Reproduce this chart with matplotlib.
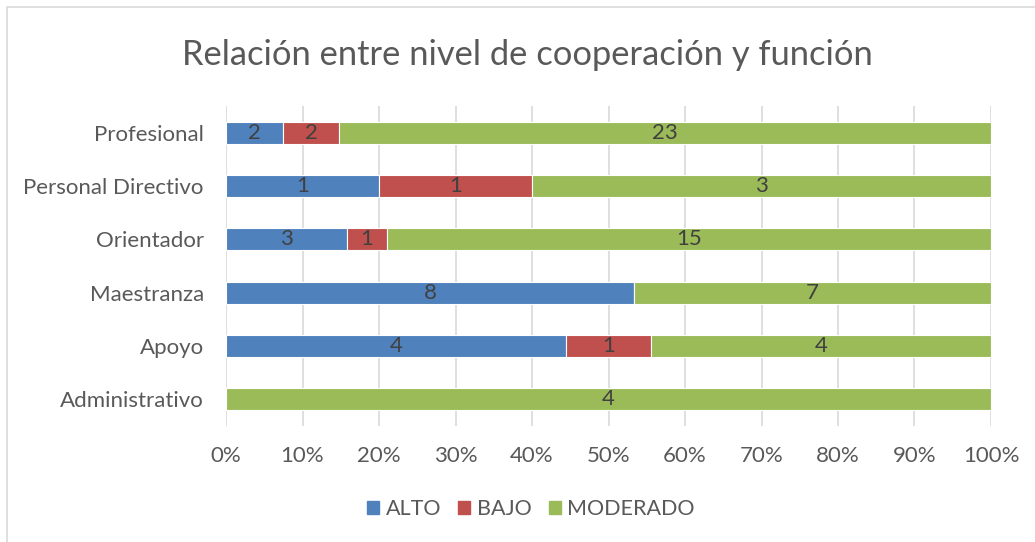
import matplotlib.pyplot as plt
import matplotlib.patches as mpatches
import numpy as np

categorias = ["Administrativo", "Apoyo", "Maestranza", "Orientador", "Personal Directivo", "Profesional"]
alto = [0, 4, 8, 3, 1, 2]
bajo = [0, 1, 0, 1, 1, 2]
moderado = [4, 4, 7, 15, 3, 23]

series = [("ALTO", alto, "#4F81BD"), ("BAJO", bajo, "#C0504D"), ("MODERADO", moderado, "#9BBB59")]

plt.rcParams['font.family'] = ['Lato', 'DejaVu Sans']

fig = plt.figure(figsize=(10.35, 5.42), dpi=100)
# borde del area del grafico
fig.patches.append(mpatches.Rectangle((7 / 1035, -0.01), 1.02, 1 - 7 / 542 + 0.01, transform=fig.transFigure,
                                      fill=False, edgecolor="#D9D9D9", linewidth=1.2))
ax = fig.add_axes([226 / 1035, 1 - 425.6 / 542, (991 - 226) / 1035, (425.6 - 106.4) / 542])

totales = np.array(alto) + np.array(bajo) + np.array(moderado)
y = np.arange(len(categorias))
izq = np.zeros(len(categorias))
handles = []
for nombre, vals, color in series:
    frac = np.array(vals) / totales
    bars = ax.barh(y, frac, left=izq, height=0.41, color=color, edgecolor="white", linewidth=0.8, zorder=3)
    for b, v in zip(bars, vals):
        if v > 0:
            ax.text(b.get_x() + b.get_width() / 2, b.get_y() + b.get_height() / 2, str(v),
                    ha="center", va="center", fontsize=16, color="#404040", zorder=4)
    izq += frac
    handles.append(mpatches.Patch(color=color, label=nombre))

ax.set_xlim(0, 1)
ax.set_ylim(-0.5, len(categorias) - 0.5)
ax.set_xticks(np.linspace(0, 1, 11))
ax.set_xticklabels([f"{int(t)}%" for t in np.linspace(0, 100, 11)])
ax.set_yticks(y)
ax.set_yticklabels(categorias)
ax.tick_params(axis="both", length=0, labelsize=16, labelcolor="#595959")
ax.tick_params(axis="x", pad=15)
ax.tick_params(axis="y", pad=16)
ax.grid(axis="x", color="#D9D9D9", linewidth=1.2, zorder=0)
for s in ax.spines.values():
    s.set_visible(False)

fig.text(527 / 1035, 1 - 55 / 542, "Relación entre nivel de cooperación y función", ha="center", va="center",
         fontsize=24.8, color="#595959")

fig.legend(handles=handles, loc="center", bbox_to_anchor=(531 / 1035, 1 - 509 / 542), ncol=3, frameon=False,
           fontsize=15.5, labelcolor="#595959", handlelength=0.55, handleheight=0.55, handletextpad=0.3,
           columnspacing=0.8)

fig.savefig("out.png", dpi=100)
